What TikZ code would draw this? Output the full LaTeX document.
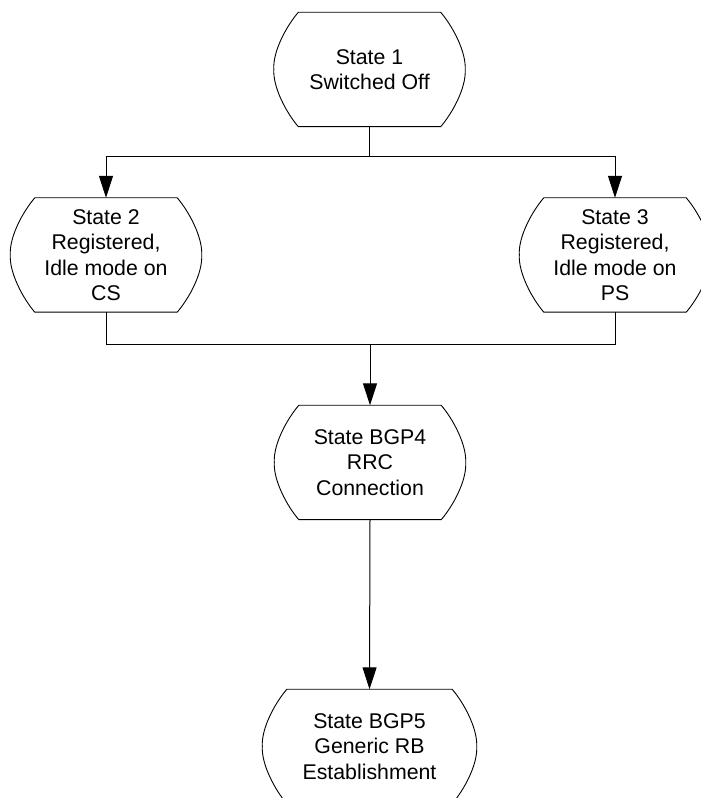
\documentclass[tikz,border=0pt]{standalone}
\usepackage{fontspec}
\setmainfont{Liberation Sans}
\usetikzlibrary{arrows.meta}
\newcommand\stateoutline[1]{%
  \draw[line width=0.9pt] (#1.north east) -- (#1.north west)
    .. controls +(-12,-14) and +(-1,18) .. ++(-24.5,-57)
    .. controls +(-1,-18) and +(-12,14) .. (#1.south west)
    -- (#1.south east)
    .. controls +(12,14) and +(1,-18) .. ++(24.5,57)
    .. controls +(1,18) and +(12,-14) .. (#1.north east) -- cycle;}
\begin{document}
\begin{tikzpicture}[x=1pt,y=1pt,
  statebox/.style={minimum width=142pt, minimum height=114pt, inner sep=0pt,
    align=center, font=\fontsize{21.3}{25.5}\selectfont},
  conn/.style={line width=1pt},
  arr/.style={conn, -{Triangle[length=22pt,width=14pt]}}]
\useasboundingbox (0,0) rectangle (701,798);
\node[statebox] (s1) at (369.5,728.5) {State 1\\Switched Off};
\node[statebox] (s2) at (106,543) {State 2\\Registered,\\Idle mode on\\CS};
\node[statebox] (s3) at (615,543) {State 3\\Registered,\\Idle mode on\\PS};
\node[statebox] (b4) at (370,335.5) {State BGP4\\RRC\\Connection};
\node[statebox, minimum width=165pt] (b5) at (369.5,51.5) {State BGP5\\Generic RB\\Establishment};
\stateoutline{s1}
\stateoutline{s2}
\stateoutline{s3}
\stateoutline{b4}
\stateoutline{b5}
\coordinate (j1) at (369.5,641);
\coordinate (j2) at (370,453);
\draw[conn] (s1.south) -- (j1);
\draw[arr] (j1) -| (s2.north);
\draw[arr] (j1) -| (s3.north);
\draw[conn] (s2.south) |- (j2);
\draw[conn] (s3.south) |- (j2);
\draw[arr] (j2) -- (b4.north);
\draw[arr] (b4.south) -- (b5.north);
\end{tikzpicture}
\end{document}
